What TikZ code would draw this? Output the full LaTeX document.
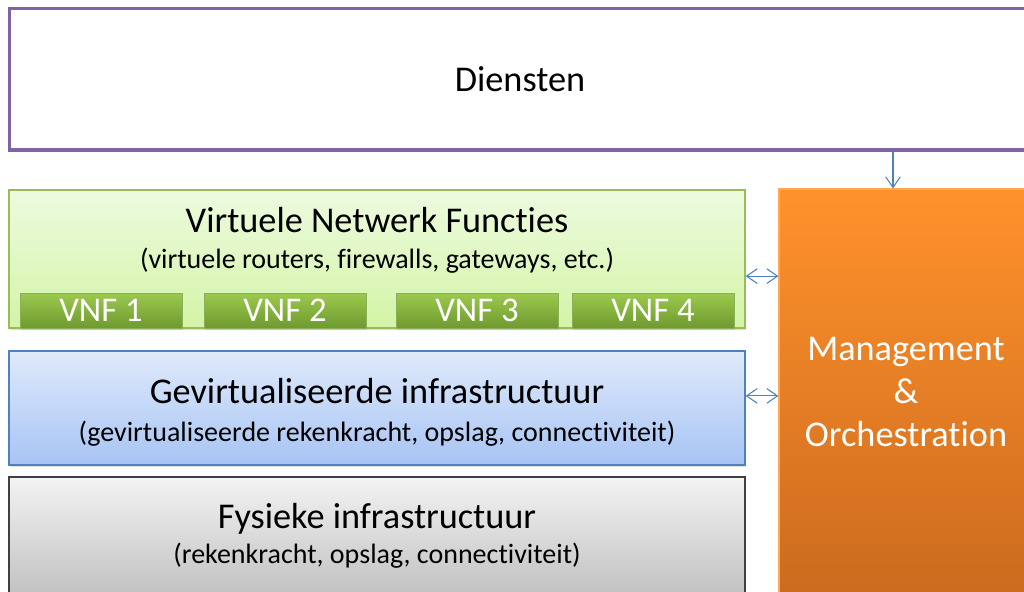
\documentclass[tikz,border=0pt]{standalone}
\usepackage{fontspec}
\setmainfont[RawFeature=-liga]{Carlito}
\usetikzlibrary{arrows.meta,shadows,calc}
\definecolor{purp}{HTML}{8064A2}
\definecolor{arrblue}{HTML}{4F81BD}
\definecolor{gtop}{HTML}{EDFBDF}
\definecolor{gbot}{HTML}{D3F4A6}
\definecolor{gline}{HTML}{9BBB59}
\definecolor{vtop}{HTML}{9CC94E}
\definecolor{vbot}{HTML}{6E9A30}
\definecolor{btop}{HTML}{DFEAFB}
\definecolor{bbot}{HTML}{A7C4F4}
\definecolor{bline}{HTML}{4F81BD}
\definecolor{ytop}{HTML}{F3F3F3}
\definecolor{ybot}{HTML}{BDBDBD}
\definecolor{yline}{HTML}{404040}
\definecolor{otop}{HTML}{FF922B}
\definecolor{obot}{HTML}{CB6A1E}
\begin{document}
\begin{tikzpicture}[x=0.75pt,y=-0.75pt,
  layer/.style={rectangle, inner sep=0pt, line width=0.9pt},
  shd/.style={drop shadow={shadow xshift=1pt, shadow yshift=-1.5pt, opacity=0.25}},
  title/.style={font=\fontsize{27.2}{32}\selectfont, text=black, inner sep=0pt},
  sub/.style={font=\fontsize{21}{25}\selectfont, text=black, inner sep=0pt},
  vnfbox/.style={rectangle, inner sep=0pt, minimum width=121.5pt, minimum height=26.25pt,
     top color=vtop, bottom color=vbot, draw=vbot!80!white, line width=0.5pt, shd,
     font=\fontsize{26}{30}\selectfont, text=white},
  conn/.style={draw=arrblue, line width=0.8pt},
]
\useasboundingbox (0,0) rectangle (1024,592);
\clip (0,0) rectangle (1024,592);
% Diensten
\node[layer, draw=purp, line width=2.4pt, fill=white, minimum width=773pt, minimum height=106pt] (dien) at (524.75,79.25) {};
\node[title] (dient) at (520,79) {Diensten};
% VNF layer
\node[layer, draw=gline, top color=gtop, bottom color=gbot, shd, minimum width=552pt, minimum height=103.5pt] (vnf) at (377,259) {};
\node[title] (vnft) at (377,220) {Virtuele Netwerk Functies};
\node[sub] (vnfs) at (377,261) {(virtuele routers, firewalls, gateways, etc.)};
\node[vnfbox] (v1) at (101,310.5) {VNF 1};
\node[vnfbox] (v2) at (285,310.5) {VNF 2};
\node[vnfbox] (v3) at (477,310.5) {VNF 3};
\node[vnfbox] (v4) at (653,310.5) {VNF 4};
% Virtualised infrastructure
\node[layer, draw=bline, top color=btop, bottom color=bbot, shd, minimum width=552pt, minimum height=85.5pt] (gev) at (377,408) {};
\node[title] (gevt) at (377,391) {Gevirtualiseerde infrastructuur};
\node[sub] (gevs) at (377,434) {(gevirtualiseerde rekenkracht, opslag, connectiviteit)};
% Physical infrastructure
\node[layer, draw=yline, top color=ytop, bottom color=ybot, shd, minimum width=552pt, minimum height=96pt] (fys) at (377,541) {};
\node[title] (fyst) at (377,519) {Fysieke infrastructuur};
\node[sub] (fyss) at (377,556) {(rekenkracht, opslag, connectiviteit)};
% Management & Orchestration
\node[layer, draw=otop!80!white, top color=otop, bottom color=obot, shd, minimum width=188.25pt, minimum height=308.25pt] (mo) at (904.5,394.5) {};
\node[title, text=white, align=center, font=\fontsize{27.2}{32.3}\selectfont] (mot) at (906,392) {Management\\\&\\Orchestration};
% Connectors
\path (mo.north) ++(-11.5,0) coordinate (t2);
\draw[conn, -{Straight Barb[length=8pt,width=11pt]}] (t2 |- dien.south) -- (t2);
\coordinate (a1) at ($(vnf.north east)!0.623!(vnf.south east)$);
\draw[conn, {Straight Barb[length=8pt,width=11pt]}-{Straight Barb[length=8pt,width=11pt]}] (a1) -- (a1 -| mo.west);
\coordinate (a2) at ($(gev.north east)!0.395!(gev.south east)$);
\draw[conn, {Straight Barb[length=8pt,width=11pt]}-{Straight Barb[length=8pt,width=11pt]}] (a2) -- (a2 -| mo.west);
\end{tikzpicture}
\end{document}
